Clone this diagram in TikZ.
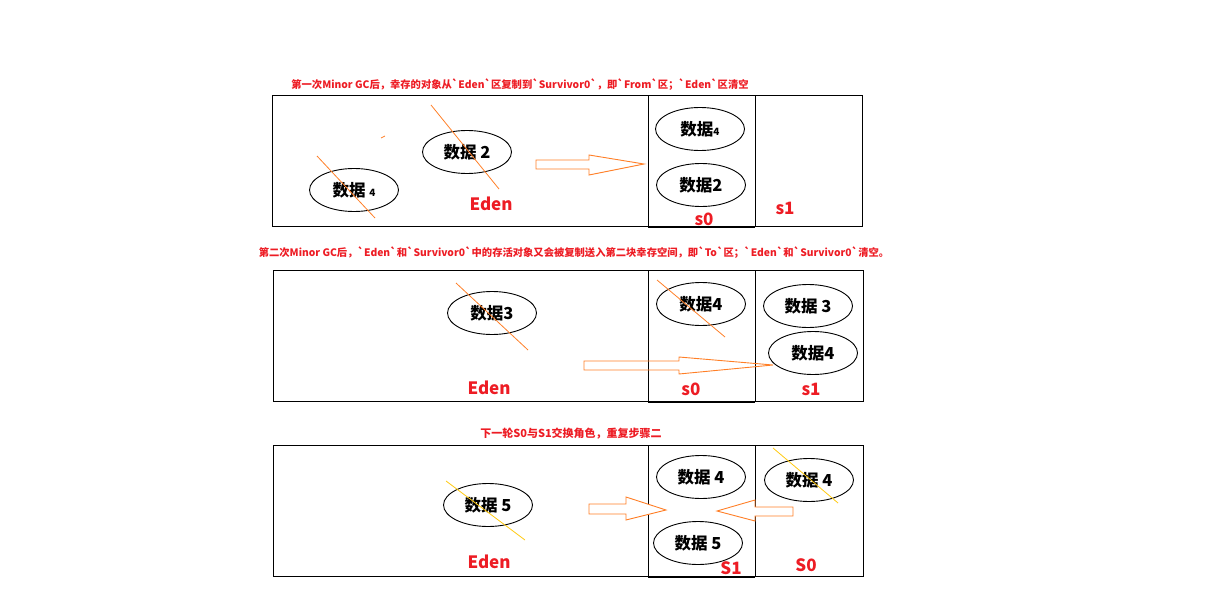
\documentclass[tikz,border=0pt]{standalone}
\usepackage{fontspec}
\newfontfamily\cjk{Noto Sans CJK SC}[Ligatures=TeXOff]
\usetikzlibrary{shapes.geometric}
\definecolor{pred}{HTML}{ED1C24}
\definecolor{porange}{HTML}{FF7F27}
\definecolor{pgold}{HTML}{FFC90E}
\tikzset{
  ell/.style={draw=black,line width=0.9pt,ellipse,minimum width=89pt,minimum height=43pt,inner sep=0pt,font=\cjk\bfseries\fontsize{16.5}{18}\selectfont},
  ttl/.style={text=pred,font=\cjk\bfseries\fontsize{10.3}{12}\selectfont,inner sep=0pt},
  lbl/.style={text=pred,font=\cjk\bfseries\fontsize{17}{19}\selectfont,inner sep=0pt},
  frame/.style={draw=black,line width=1pt},
  hollow/.style={draw=porange,line width=0.9pt,fill=white},
  strike/.style={draw=porange,line width=0.8pt},
  strikey/.style={draw=pgold,line width=0.8pt}
}
\newcommand{\sm}[1]{{\fontsize{10}{12}\selectfont #1}}
\begin{document}
\begin{tikzpicture}[x=1pt,y=-1pt]
\useasboundingbox (0,0) rectangle (1222,604);
% ---------- panel 1 ----------
\node[ttl] (t1) at (520,85) {第一次Minor GC后，幸存的对象从`Eden`区复制到`Survivor0`，即`From`区；`Eden`区清空};
\draw[frame] (272,96) rectangle (862,226);
\draw[frame] (648,96) rectangle (755,226);
\draw[line width=2pt] (648,227) -- (755,227);
\node[ell] (a1) at (700,129) {数据\sm{4}};
\node[ell] (a2) at (701,185) {数据2};
\node[ell] (a3) at (467,152) {数据 2};
\node[ell] (a4) at (354,190) {数据 \sm{4}};
\node[lbl] (l1) at (491,204) {Eden};
\node[lbl] (l2) at (704,219) {s0};
\node[lbl] (l3) at (785,208) {s1};
\draw[hollow] (536,160) -- (589,160) -- (589,155) -- (644,164) -- (589,175) -- (589,169) -- (536,169) -- cycle;
\draw[strike] (431,105) -- (499,189);
\draw[strike] (317,156) -- (375,218);
\draw[strike] (381,138) -- (385,136);
% ---------- panel 2 ----------
\node[ttl] (t2) at (574,253) {第二次Minor GC后，`Eden`和`Survivor0`中的存活对象又会被复制送入第二块幸存空间，即`To`区；`Eden`和`Survivor0`清空。};
\draw[frame] (273,270) rectangle (863,401);
\draw[frame] (648,270) rectangle (755,401);
\draw[line width=2pt] (648,402) -- (755,402);
\node[ell] (b1) at (492,313) {数据3};
\node[ell] (b2) at (701,304) {数据4};
\node[ell] (b3) at (808,306) {数据 3};
\node[ell] (b4) at (813,353) {数据4};
\node[lbl] (m1) at (489,388) {Eden};
\node[lbl] (m2) at (691,389) {s0};
\node[lbl] (m3) at (811,389) {s1};
\draw[hollow,fill=none] (584,361) -- (679,361) -- (679,357) -- (773,365) -- (679,374) -- (679,370) -- (584,370) -- cycle;
\draw[strike] (456,283) -- (528,350);
\draw[strike] (657,280) -- (725,337);
% ---------- panel 3 ----------
\node[ttl,font=\cjk\bfseries\fontsize{11}{12}\selectfont] (t3) at (571,434) {下一轮S0与S1交换角色，重复步骤二};
\draw[frame] (273,445) rectangle (863,576);
\draw[frame] (648,445) rectangle (755,576);
\draw[line width=2pt] (648,577) -- (755,577);
\node[ell] (c1) at (488,505) {数据 5};
\node[ell] (c2) at (701,477) {数据 4};
\node[ell] (c3) at (698,543) {数据 5};
\node[ell] (c4) at (809,480) {数据 4};
\node[lbl] (n1) at (489,562) {Eden};
\node[lbl] (n2) at (731,568) {S1};
\node[lbl] (n3) at (806,565) {S0};
\draw[hollow] (589,504) -- (626,504) -- (626,497) -- (666,510) -- (626,520) -- (626,514) -- (589,514) -- cycle;
\draw[hollow] (793,507) -- (755,507) -- (755,500) -- (717,511) -- (755,521) -- (755,516) -- (793,516) -- cycle;
\draw[strikey] (446,481) -- (525,540);
\draw[strikey] (773,448) -- (838,503);
\end{tikzpicture}
\end{document}
